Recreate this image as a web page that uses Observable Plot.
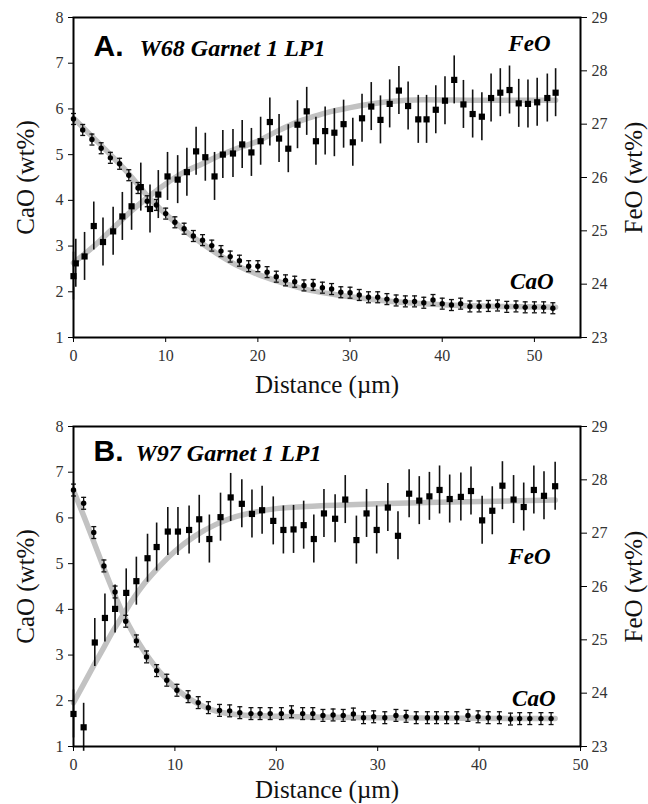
<!DOCTYPE html>
<html><head><meta charset="utf-8">
<script src="https://cdn.jsdelivr.net/npm/d3@7"></script>
<script src="https://cdn.jsdelivr.net/npm/@observablehq/plot@0.6"></script>
<style>
html,body{margin:0;padding:0;background:#fff;}
#chart{width:648px;}
#chart svg{display:block;}
</style></head><body><div id="chart"></div>
<script>
// ---------- axis ticks ----------
const caoTicks = [1, 2, 3, 4, 5, 6, 7, 8];
const feoTicks = [23, 24, 25, 26, 27, 28, 29];
const distTicks = [0, 10, 20, 30, 40, 50];

// ---------- Panel A: W68 Garnet 1 LP1 ----------
const distA_CaO = [0,1,2,3,4,5,6,7,8,9,10,11,12,13,14,15,16,17,18,19,20,21,22,23,24,25,26,27,28,29,30,31,32,33,34,35,36,37,38,39,40,41,42,43,44,45,46,47,48,49,50,51,52];
const caoA = [5.78,5.54,5.33,5.14,4.93,4.80,4.55,4.27,3.98,3.90,3.71,3.52,3.38,3.22,3.13,3.01,2.89,2.77,2.68,2.56,2.56,2.43,2.33,2.25,2.22,2.14,2.15,2.09,2.06,1.99,1.98,1.93,1.88,1.88,1.84,1.81,1.79,1.79,1.76,1.82,1.74,1.71,1.74,1.68,1.68,1.69,1.70,1.67,1.68,1.66,1.66,1.66,1.64];
const distA_FeO = [0,0.25,1.2,2.2,3.2,4.3,5.3,6.3,7.3,8.3,9.2,10.2,11.3,12.3,13.3,14.3,15.3,16.2,17.3,18.3,19.3,20.3,21.3,22.3,23.3,24.3,25.3,26.3,27.3,28.3,29.3,30.3,31.3,32.3,33.3,34.3,35.3,36.3,37.4,38.3,39.3,40.3,41.3,42.3,43.3,44.3,45.3,46.3,47.3,48.3,49.3,50.3,51.4,52.3];
const feoA = [24.15,24.39,24.52,25.09,24.79,24.99,25.27,25.46,25.82,25.41,25.68,26.02,25.96,26.10,26.49,26.38,26.02,26.43,26.45,26.62,26.47,26.68,27.04,26.73,26.54,26.99,27.24,26.68,26.87,26.84,27.00,26.66,27.11,27.33,27.08,27.38,27.63,27.34,27.09,27.09,27.27,27.44,27.83,27.37,27.19,27.14,27.49,27.59,27.64,27.39,27.38,27.41,27.49,27.59];
const caoErrA = 0.12;
const feoErrA = 0.45;
const fitDistA_CaO = [0,2,4,6,8,10,12,14,16,18,20,22,24,26,28,30,34,38,42,46,52.3];
const fitA_CaO = [5.8,5.4,5.0,4.58,4.1,3.7,3.35,3.05,2.78,2.55,2.38,2.24,2.12,2.02,1.95,1.89,1.80,1.74,1.70,1.68,1.66];
const fitDistA_FeO = [0,2,4,6,8,10,12,14,16,18,20,22,24,26,28,30,34,38,44,52.3];
const fitA_FeO = [24.4,24.68,25.0,25.33,25.62,25.88,26.1,26.26,26.42,26.56,26.68,26.86,27.02,27.14,27.24,27.31,27.42,27.46,27.45,27.45];

// ---------- Panel B: W97 Garnet 1 LP1 ----------
const distB_CaO = [0,1.0,2.0,3.0,4.1,5.15,6.2,7.2,8.2,9.2,10.2,11.3,12.3,13.3,14.4,15.4,16.4,17.5,18.4,19.4,20.5,21.5,22.6,23.6,24.6,25.6,26.6,27.6,28.6,29.6,30.7,31.8,32.8,33.8,34.9,35.8,36.8,37.8,38.9,39.9,40.9,42.0,43.1,44.0,45.0,46.1,47.1];
const caoB = [6.61,6.32,5.68,4.95,4.38,3.74,3.31,2.96,2.66,2.45,2.23,2.09,1.96,1.85,1.79,1.78,1.74,1.72,1.72,1.72,1.72,1.76,1.72,1.72,1.68,1.69,1.68,1.71,1.63,1.65,1.63,1.68,1.66,1.63,1.63,1.63,1.63,1.63,1.68,1.65,1.63,1.63,1.60,1.61,1.61,1.61,1.61];
const distB_FeO = [0,1.0,2.1,3.1,4.1,5.2,6.2,7.3,8.2,9.3,10.3,11.4,12.4,13.4,14.5,15.5,16.6,17.6,18.6,19.7,20.7,21.7,22.7,23.7,24.7,25.8,26.8,27.9,28.9,29.9,31.0,32.0,33.1,34.1,35.1,36.1,37.1,38.2,39.2,40.3,41.3,42.3,43.4,44.4,45.4,46.4,47.5];
const feoB = [23.61,23.36,24.95,25.41,25.58,25.88,26.10,26.53,26.74,27.03,27.03,27.06,27.26,26.89,27.30,27.67,27.55,27.36,27.43,27.23,27.06,27.07,27.15,26.89,27.37,27.27,27.63,26.87,27.37,27.06,27.48,26.95,27.74,27.61,27.69,27.81,27.64,27.68,27.79,27.24,27.42,27.89,27.63,27.49,27.81,27.70,27.88];
const caoErrB = 0.13;
const feoErrB = 0.45;
const fitDistB_CaO = [0,1,2,3,4,5,6,7,8,9,10,11,12,13,14,16,20,30,47.5];
const fitB_CaO = [6.6,6.05,5.48,4.9,4.35,3.85,3.43,3.07,2.77,2.51,2.29,2.11,1.97,1.86,1.78,1.70,1.66,1.63,1.61];
const fitDistB_FeO = [0,1,2,3,4,5,6,7,8,9,10,12,14,16,18,20,24,30,36,47.5];
const fitB_FeO = [23.82,24.17,24.52,24.86,25.2,25.5,25.8,26.06,26.28,26.48,26.66,26.95,27.16,27.31,27.4,27.46,27.51,27.55,27.58,27.62];

// ---------- helpers ----------
// FeO (right axis, 23–29) shares the plot with CaO (left axis, 1–8)
const toY = v => 1 + (v - 23) * 7 / 6;
const fromY = y => 23 + (y - 1) * 6 / 7;
const capSymbol = { draw(ctx, size) { const w = Math.sqrt(size); ctx.moveTo(-w / 2, 0); ctx.lineTo(w / 2, 0); } };
const SERIF = "'Liberation Serif', 'Times New Roman', serif";
const SANS = "'Liberation Sans', Arial, sans-serif";
const GRAY = "#c2c2c2";

function panel(o) {
  const cao = o.caoDist.map((d, i) => ({d, v: o.cao[i]}));
  const feo = o.feoDist.map((d, i) => ({d, v: o.feo[i]}));
  const fitC = o.fitCDist.map((d, i) => ({d, v: o.fitC[i]}));
  const fitF = o.fitFDist.map((d, i) => ({d, v: toY(o.fitF[i])}));
  return Plot.plot({
    width: 648, height: o.height,
    marginLeft: 73, marginRight: 68, marginTop: o.mt, marginBottom: o.mb,
    style: {fontFamily: SERIF, fontSize: "16px", background: "#fff", color: "#333"},
    x: {domain: o.xDomain, label: null},
    y: {domain: [1, 8], label: null},
    marks: [
      Plot.line(fitC, {x: "d", y: "v", stroke: GRAY, strokeWidth: 5.5, curve: "monotone-x"}),
      Plot.line(fitF, {x: "d", y: "v", stroke: GRAY, strokeWidth: 5.5, curve: "monotone-x"}),
      Plot.ruleX(feo, {x: "d", y1: r => toY(r.v - o.feoErr), y2: r => toY(r.v + o.feoErr), stroke: "#111", strokeWidth: 1.6}),
      Plot.ruleX(cao, {x: "d", y1: r => r.v - o.caoErr, y2: r => r.v + o.caoErr, stroke: "#111", strokeWidth: 1.3}),
      Plot.dot(cao, {x: "d", y: r => r.v - o.caoErr, symbol: capSymbol, r: 2.8, stroke: "#111", strokeWidth: 1.3, fill: "none"}),
      Plot.dot(cao, {x: "d", y: r => r.v + o.caoErr, symbol: capSymbol, r: 2.8, stroke: "#111", strokeWidth: 1.3, fill: "none"}),
      Plot.dot(feo, {x: "d", y: r => toY(r.v), symbol: "square", r: 3.5, fill: "#000", stroke: "none"}),
      Plot.dot(cao, {x: "d", y: "v", r: 2.7, fill: "#000", stroke: "none"}),
      Plot.frame({stroke: "#000", strokeWidth: 2}),
      Plot.axisX({ticks: distTicks, tickFormat: d => String(d), tickSize: 5, tickPadding: 7, label: null, stroke: "#000"}),
      Plot.axisY({ticks: caoTicks, tickFormat: d => String(d), tickSize: 5, tickPadding: 5, label: null, stroke: "#000"}),
      Plot.axisY({anchor: "right", ticks: feoTicks.map(toY), tickFormat: y => String(Math.round(fromY(y))), tickSize: 6, tickPadding: 5, label: null, stroke: "#000"}),
      // panel titles
      Plot.text([o.letter], {frameAnchor: "top-left", dx: 20, dy: o.titleDy, textAnchor: "start", lineAnchor: "bottom", fontFamily: SANS, fontWeight: "bold", fontSize: 30, fill: "#000"}),
      Plot.text([o.title], {frameAnchor: "top-left", dx: o.titleDx, dy: o.titleDy, textAnchor: "start", lineAnchor: "bottom", fontFamily: SERIF, fontWeight: "bold", fontStyle: "italic", fontSize: 24, fill: "#000"}),
      // series labels
      Plot.text(["FeO"], {frameAnchor: "top-right", dx: -30, dy: o.feoDy, textAnchor: "end", lineAnchor: "bottom", fontFamily: SERIF, fontWeight: "bold", fontStyle: "italic", fontSize: 23, fill: "#000"}),
      Plot.text(["CaO"], {frameAnchor: "bottom-right", dx: o.caoDx, dy: o.caoDy, textAnchor: "end", lineAnchor: "bottom", fontFamily: SERIF, fontWeight: "bold", fontStyle: "italic", fontSize: 23, fill: "#000"}),
      // axis titles
      Plot.text(["CaO (wt%)"], {frameAnchor: "left", dx: -40, rotate: -90, textAnchor: "middle", lineAnchor: "bottom", fontFamily: SERIF, fontSize: 25, fill: "#111"}),
      Plot.text(["FeO (wt%)"], {frameAnchor: "right", dx: 61, rotate: -90, textAnchor: "middle", lineAnchor: "bottom", fontFamily: SERIF, fontSize: 25, fill: "#111"}),
      Plot.text(["Distance (\u00b5m)"], {frameAnchor: "bottom", dy: o.xLabelDy, textAnchor: "middle", lineAnchor: "bottom", fontFamily: SERIF, fontSize: 25, fill: "#111"})
    ]
  });
}

const chart = document.getElementById("chart");
chart.append(panel({
  height: 402, mt: 17, mb: 65, xDomain: [0, 55],
  caoDist: distA_CaO, cao: caoA, feoDist: distA_FeO, feo: feoA, caoErr: caoErrA, feoErr: feoErrA,
  fitCDist: fitDistA_CaO, fitC: fitA_CaO, fitFDist: fitDistA_FeO, fitF: fitA_FeO,
  letter: "A.", title: "W68 Garnet 1 LP1", titleDx: 66, titleDy: 38,
  feoDy: 33, caoDx: -27, caoDy: -49, xLabelDy: 55
}));
chart.append(panel({
  height: 402, mt: 24, mb: 58, xDomain: [0, 50],
  caoDist: distB_CaO, cao: caoB, feoDist: distB_FeO, feo: feoB, caoErr: caoErrB, feoErr: feoErrB,
  fitCDist: fitDistB_CaO, fitC: fitB_CaO, fitFDist: fitDistB_FeO, fitF: fitB_FeO,
  letter: "B.", title: "W97 Garnet 1 LP1", titleDx: 62, titleDy: 34,
  feoDy: 137, caoDx: -25, caoDy: -41, xLabelDy: 51
}));
</script>
</body></html>
